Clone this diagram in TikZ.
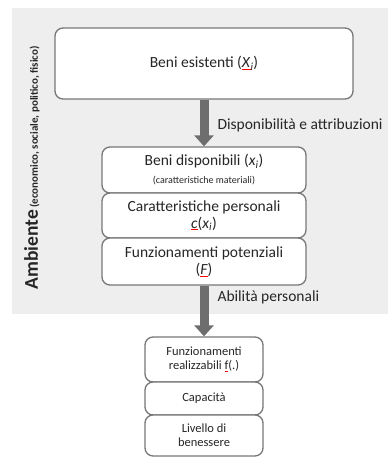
\documentclass[tikz,border=0pt]{standalone}
\usepackage{fontspec}
\setmainfont{Carlito}
\usetikzlibrary{arrows.meta}
\definecolor{bggray}{HTML}{EEEEEE}
\definecolor{boxline}{HTML}{777777}
\definecolor{arrgray}{HTML}{6E6E6E}
\definecolor{inkgray}{HTML}{262626}
\newcommand{\spellmark}[1]{\textcolor{red}{\underline{\textcolor{inkgray}{#1}}}}
\begin{document}
\begin{tikzpicture}[x=1pt,y=-1pt,
    box/.style={draw=boxline,line width=1.3pt,fill=white,rounded corners=8pt,
      align=center,inner sep=0pt,text=inkgray},
    big/.style={font=\fontsize{15.5}{17}\selectfont},
    small/.style={font=\fontsize{12.5}{14}\selectfont},
    flow/.style={arrgray,line width=9pt,-{Triangle[width=19pt,length=11pt]}},
    lbl/.style={anchor=west,text=inkgray,font=\fontsize{15.5}{17}\selectfont}]
    \useasboundingbox (0,0) rectangle (388,457);
    \fill[bggray] (12,8) rectangle (388,314);
    \node[box,big,minimum width=298pt,minimum height=71pt] (b1) at (204,63.5) {Beni esistenti (\spellmark{\textit{X}}\textsubscript{\textit{i}})};
    \node[box,big,minimum width=204pt,minimum height=46pt] (b2) at (204,170) {Beni disponibili (\textit{x}\textsubscript{\textit{i}})\\[1pt] {\fontsize{10}{11}\selectfont (caratteristiche materiali)}};
    \node[box,big,minimum width=204pt,minimum height=45pt] (b3) at (204,215.5) {Caratteristiche personali\\ \spellmark{\textit{c}}(\textit{x}\textsubscript{\textit{i}})};
    \node[box,big,minimum width=204pt,minimum height=47pt] (b4) at (204,261.5) {Funzionamenti potenziali\\ (\spellmark{\textit{F}})};
    \node[box,small,minimum width=118pt,minimum height=45pt] (b5) at (204,359.5) {Funzionamenti\\ realizzabili \spellmark{f}(.)};
    \node[box,small,minimum width=118pt,minimum height=33pt] (b6) at (204,398.5) {Capacità};
    \node[box,small,minimum width=118pt,minimum height=41pt] (b7) at (204,435.5) {Livello di\\ benessere};
    \draw [flow] (b1.south) -- (b2.north);
    \draw [flow] (b4.south) -- (b5.north);
    \node[lbl] (t1) at (214,125) {Disponibilità e attribuzioni};
    \node[lbl] (t2) at (214,297) {Abilità personali};
    \node[rotate=90,anchor=west,text=inkgray] (amb) at (32,293)
      {{\fontsize{19.5}{20}\selectfont\bfseries Ambiente} {\fontsize{11}{12}\selectfont\bfseries (economico, sociale, politico, fisico)}};
  \end{tikzpicture}
\end{document}
